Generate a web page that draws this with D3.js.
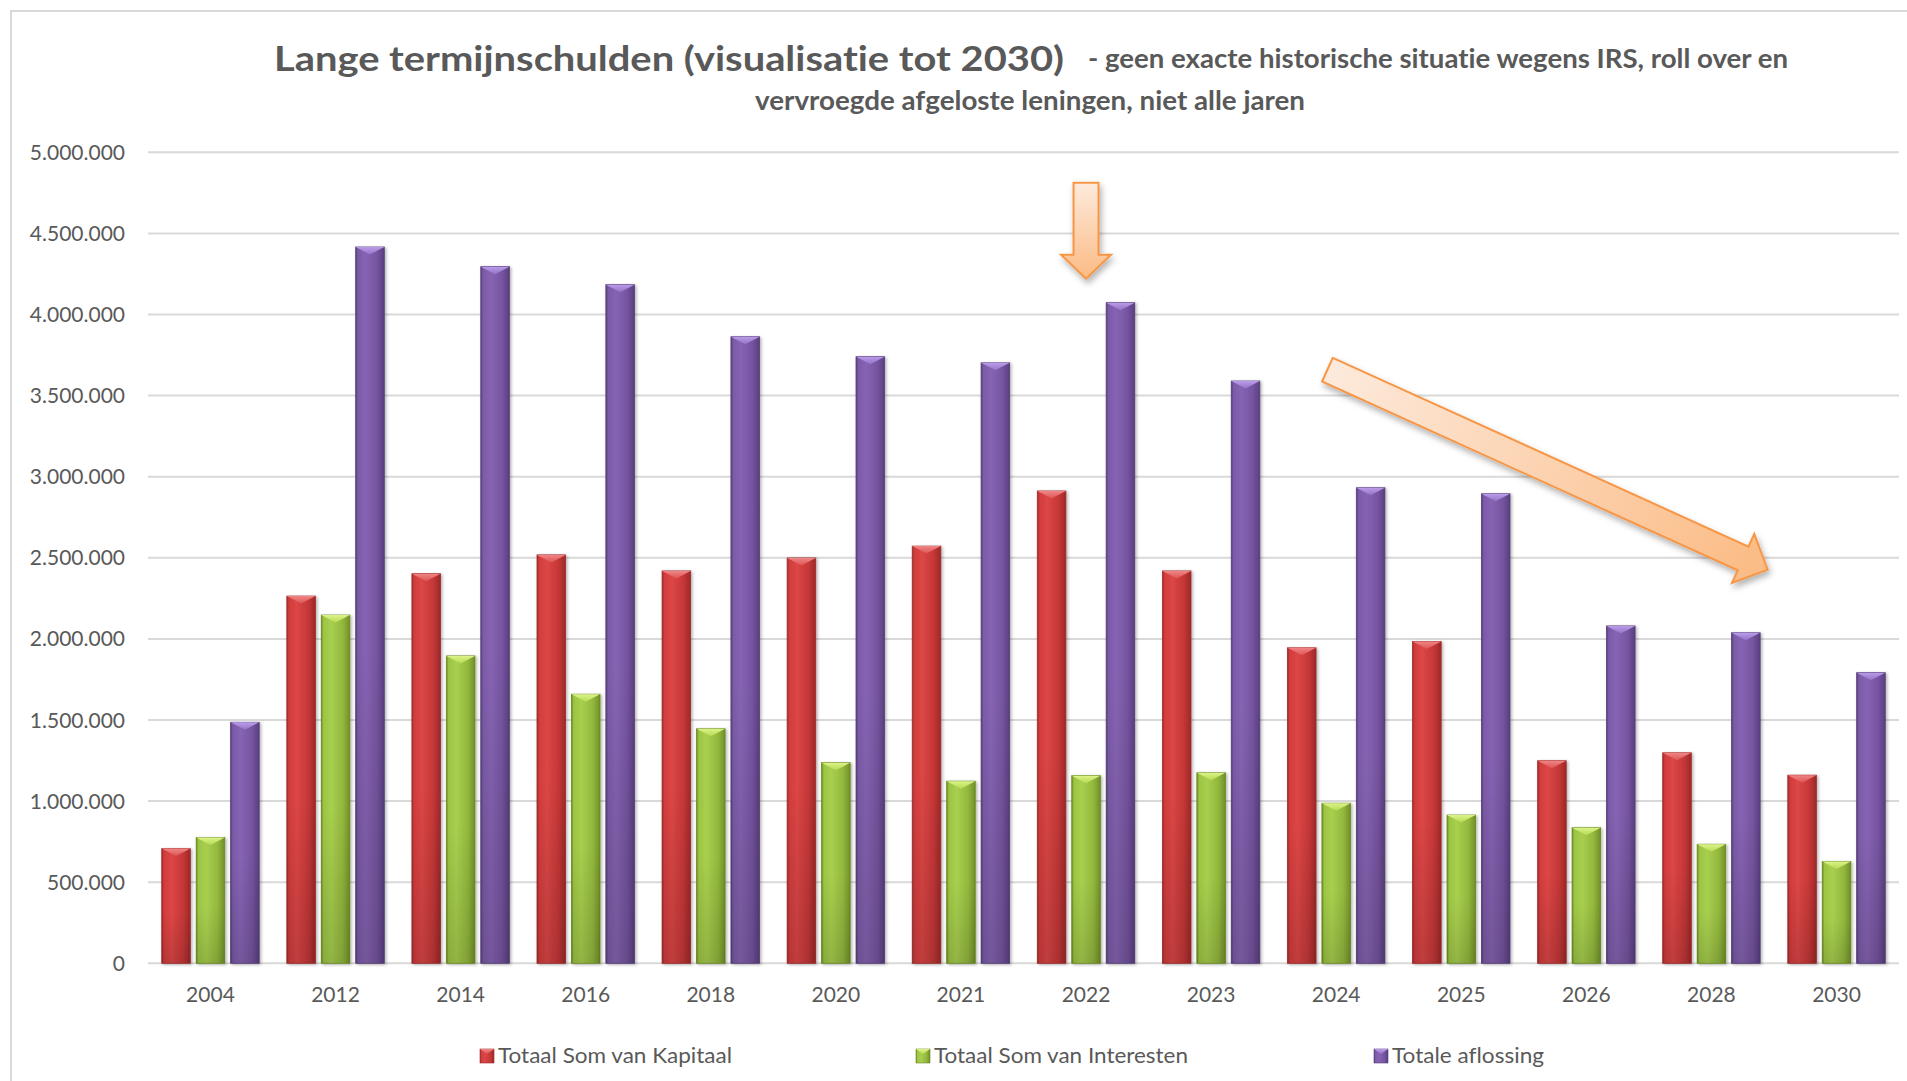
<!DOCTYPE html>
<html>
<head>
<meta charset="utf-8">
<script src="https://cdn.jsdelivr.net/npm/d3@7"></script>
<style>
  body { margin: 0; background: #fff; }
  svg text { font-family: Lato, "Open Sans", sans-serif; fill: #595959; font-variant-ligatures: none; }
</style>
</head>
<body>
<svg id="chart" width="1907" height="1081"></svg>
<script>
// data
const years = ["2004", "2012", "2014", "2016", "2018", "2020", "2021", "2022", "2023", "2024", "2025", "2026", "2028", "2030"];
const kapitaal = [707000, 2264000, 2402000, 2518000, 2419000, 2499000, 2572000, 2912000, 2419000, 1945000, 1984000, 1249000, 1298000, 1160000];
const interesten = [775000, 2147000, 1895000, 1659000, 1446000, 1237000, 1123000, 1157000, 1175000, 987000, 914000, 836000, 734000, 628000];
const aflossing = [1486000, 4416000, 4295000, 4184000, 3863000, 3740000, 3702000, 4073000, 3590000, 2932000, 2895000, 2080000, 2038000, 1792000];
const seriesNames = ["Totaal Som van Kapitaal", "Totaal Som van Interesten", "Totale aflossing"];
const yTicks = [0, 500000, 1000000, 1500000, 2000000, 2500000, 3000000, 3500000, 4000000, 4500000, 5000000];

// annotation arrows, [category index, value] from tail to tip
const arrowDown = [[7.5, 4813000], [7.5, 4221000]];
const arrowTrend = [[9.43, 3660000], [12.95, 2427000]];

const svg = d3.select("#chart");
const series = [kapitaal, interesten, aflossing];

// colours for the bevelled bars: [edgeDark, body, bodyLight, bodyRight, edgeRight, cap1, cap2]
const palette = [
    ["#9e2b2b", "#d33c3c", "#dc4646", "#c53737", "#a62c2c", "#f08585", "#dd5555"],
    ["#6b8a23", "#9cc543", "#a8cf4f", "#93b83d", "#7a9a2e", "#dcf38a", "#b5da52"],
    ["#563f78", "#7b5aa8", "#8664b3", "#7654a0", "#604488", "#bb9cea", "#9373c6"]
];

const fmt = d3.formatLocale({decimal: ",", thousands: ".", grouping: [3], currency: ["€", ""]}).format(",");

const x = d3.scaleBand().domain(years).range([148, 1899]).paddingInner(0.221).paddingOuter(0.11);
const xs = d3.scaleBand().domain([0, 1, 2]).range([0, x.bandwidth()]).paddingInner(0.17);
const y = d3.scaleLinear().domain([0, 5000000]).range([963.3, 152.3]);
const xi = d3.scaleLinear().domain([0, years.length]).range(x.range());

const defs = svg.append("defs");
palette.forEach((p, i) => {
    const g = defs.append("linearGradient").attr("id", "body" + i);
    [[0, p[0]], [0.08, p[1]], [0.35, p[2]], [0.75, p[3]], [0.94, p[4]], [1, p[0]]].forEach(s =>
        g.append("stop").attr("offset", s[0]).attr("stop-color", s[1]));
    const c = defs.append("linearGradient").attr("id", "cap" + i).attr("x1", 0).attr("x2", 0).attr("y1", 0).attr("y2", 1);
    c.append("stop").attr("offset", 0).attr("stop-color", p[5]);
    c.append("stop").attr("offset", 1).attr("stop-color", p[6]);
});
const shade = defs.append("linearGradient").attr("id", "shade").attr("x1", 0).attr("x2", 0).attr("y1", 0).attr("y2", 1);
shade.append("stop").attr("offset", 0.55).attr("stop-color", "#000").attr("stop-opacity", 0);
shade.append("stop").attr("offset", 1).attr("stop-color", "#000").attr("stop-opacity", 0.13);

const ag = defs.append("linearGradient").attr("id", "arrowFill");
ag.append("stop").attr("offset", 0).attr("stop-color", "#fdeadc");
ag.append("stop").attr("offset", 1).attr("stop-color", "#fbbb84");

defs.append("filter").attr("id", "barShadow").attr("x", "-30%").attr("y", "-10%").attr("width", "160%").attr("height", "120%")
    .append("feDropShadow").attr("dx", 1.5).attr("dy", 1).attr("stdDeviation", 1.5).attr("flood-opacity", 0.3);
defs.append("filter").attr("id", "arrowShadow").attr("x", "-20%").attr("y", "-20%").attr("width", "140%").attr("height", "140%")
    .append("feDropShadow").attr("dx", 2).attr("dy", 4).attr("stdDeviation", 3).attr("flood-opacity", 0.3);

// outer chart border
svg.append("rect").attr("x", 11).attr("y", 11).attr("width", 1920).attr("height", 1100)
    .attr("fill", "#fff").attr("stroke", "#d9d9d9").attr("stroke-width", 2);

// gridlines + y labels
const grid = svg.append("g");
grid.selectAll("line").data(yTicks).enter().append("line")
    .attr("x1", 148).attr("x2", 1899)
    .attr("y1", d => y(d)).attr("y2", d => y(d))
    .attr("stroke", "#d9d9d9").attr("stroke-width", 2);
grid.selectAll("text").data(yTicks).enter().append("text")
    .attr("x", 125).attr("y", d => y(d)).attr("dy", "0.36em")
    .attr("text-anchor", "end").attr("font-size", 21)
    .text(d => fmt(d));

// x labels
svg.append("g").selectAll("text").data(years).enter().append("text")
    .attr("x", d => x(d) + x.bandwidth() / 2).attr("y", 1002)
    .attr("text-anchor", "middle").attr("font-size", 21)
    .text(d => d);

// bars
const bars = svg.append("g");
series.forEach((vals, s) => {
    const gs = bars.append("g");
    const w = xs.bandwidth();
    const bar = gs.selectAll("g").data(vals).enter().append("g")
        .attr("transform", (d, i) => `translate(${x(years[i]) + xs(s)},0)`);
    bar.append("rect")
        .attr("y", d => y(d)).attr("width", w).attr("height", d => y(0) - y(d))
        .attr("fill", `url(#body${s})`).attr("stroke", palette[s][0]).attr("stroke-width", 0.8)
        .attr("filter", "url(#barShadow)");
    bar.append("rect")
        .attr("y", d => y(d)).attr("width", w).attr("height", d => y(0) - y(d))
        .attr("fill", "url(#shade)");
    bar.append("polygon")
        .attr("points", d => `0,${y(d)} ${w},${y(d)} ${w / 2},${y(d) + 7.5}`)
        .attr("fill", `url(#cap${s})`);
});

// orange arrows
function drawArrow(pts, shaftW, headW, headL) {
    const x0 = xi(pts[0][0]), y0 = y(pts[0][1]), x1 = xi(pts[1][0]), y1 = y(pts[1][1]);
    const L = Math.hypot(x1 - x0, y1 - y0);
    const ang = Math.atan2(y1 - y0, x1 - x0) * 180 / Math.PI;
    const sw = shaftW / 2, hw = headW / 2;
    const shape = [[0, -sw], [L - headL, -sw], [L - headL, -hw], [L, 0], [L - headL, hw], [L - headL, sw], [0, sw]];
    svg.append("g").attr("filter", "url(#arrowShadow)")
        .append("path")
        .attr("d", d3.line()(shape) + "Z")
        .attr("transform", `translate(${x0},${y0}) rotate(${ang})`)
        .attr("fill", "url(#arrowFill)")
        .attr("stroke", "#f79646").attr("stroke-width", 2).attr("stroke-linejoin", "miter");
}
drawArrow(arrowDown, 25, 50, 24);
drawArrow(arrowTrend, 26, 54, 27);

// title: the original font is narrower than Lato, so squeeze to the picture's widths
function squeeze(sel, width) {
    return sel.attr("textLength", width).attr("lengthAdjust", "spacingAndGlyphs");
}
squeeze(svg.append("text").attr("x", 274).attr("y", 71).attr("font-size", 35).attr("font-weight", "bold")
    .text("Lange termijnschulden (visualisatie tot 2030)"), 790);
squeeze(svg.append("text").attr("x", 1088).attr("y", 68).attr("font-size", 26).attr("font-weight", "bold")
    .text("- geen exacte historische situatie wegens IRS, roll over en"), 700);
squeeze(svg.append("text").attr("x", 755).attr("y", 110).attr("font-size", 26).attr("font-weight", "bold")
    .text("vervroegde afgeloste leningen, niet alle jaren"), 550);

// legend
const legendX = [480, 916, 1374];
const legendW = [234, 254, 152];
const lg = svg.append("g").selectAll("g").data(seriesNames).enter().append("g")
    .attr("transform", (d, i) => `translate(${legendX[i]},1049)`);
lg.append("rect").attr("width", 14).attr("height", 14)
    .attr("fill", (d, i) => `url(#body${i})`).attr("stroke", (d, i) => palette[i][0]).attr("stroke-width", 0.6);
lg.append("polygon").attr("points", "0,0 14,0 7,5").attr("fill", (d, i) => `url(#cap${i})`);
lg.append("text").attr("x", 18).attr("y", 14).attr("font-size", 22)
    .attr("textLength", (d, i) => legendW[i]).attr("lengthAdjust", "spacingAndGlyphs")
    .text(d => d);
</script>
</body>
</html>
